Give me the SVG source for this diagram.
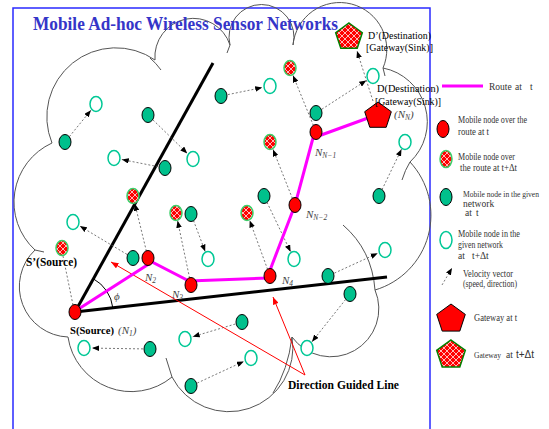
<svg xmlns="http://www.w3.org/2000/svg" width="549" height="429" viewBox="0 0 549 429">
<style>
.g{fill:#00c08c;stroke:#000;stroke-width:1}
.h{fill:#fff;stroke:#00c896;stroke-width:1.5}
.r{fill:#ff0000;stroke:#000;stroke-width:1}
.rh{fill:url(#hatch);stroke:#3ccf6a;stroke-width:1.5}
.v{stroke:#555;stroke-width:0.8;stroke-dasharray:2 2;fill:none;marker-end:url(#ah)}
.cl{fill:none;stroke:#555;stroke-width:1}
.lt{font-family:"Liberation Serif",serif;font-size:9.5px;fill:#333}
.nl{font-family:"Liberation Serif",serif;font-style:italic;font-size:11px;fill:#444}
.sub{font-size:7.5px}
.lbl{font-family:"Liberation Serif",serif;font-size:11px;fill:#000}
.bl{font-family:"Liberation Serif",serif;font-weight:bold;font-size:12px;fill:#000}
.red{stroke:#ff0000;stroke-width:1;fill:none;marker-end:url(#rah)}
</style>
<defs>
<pattern id="hatch" patternUnits="userSpaceOnUse" width="6" height="6">
<rect width="6" height="6" fill="#ff0000"/>
<path d="M0,0 L6,6 M6,0 L0,6" stroke="#ffb8b8" stroke-width="1"/>
</pattern>
<marker id="ah" viewBox="0 0 10 8" refX="10" refY="4" markerWidth="7" markerHeight="5.6" orient="auto" markerUnits="userSpaceOnUse">
<path d="M0,0 L10,4 L0,8 z" fill="#000"/>
</marker>
<marker id="rah" viewBox="0 0 10 8" refX="10" refY="4" markerWidth="8" markerHeight="6" orient="auto" markerUnits="userSpaceOnUse">
<path d="M0,0 L10,4 L0,8 z" fill="#ff0000"/>
</marker>
</defs>
<rect width="549" height="429" fill="#fff"/>
<rect x="13" y="8" width="417" height="440" fill="none" stroke="#2a2aff" stroke-width="1.5"/>
<g id="cloud">
<path class="cl" d="M52,143 A69,69 0 0 1 155,60 A38.5,38.5 0 0 1 230,45 A32.5,32.5 0 1 1 293,45 A47,47 0 1 1 383,68 A55,55 0 0 1 410,162 A78,78 0 0 1 375,290 A48,48 0 0 1 292,337 A64,64 0 0 1 172,377 A64,64 0 0 1 68,337 A50.5,50.5 0 0 1 35,250 A65,65 0 0 1 52,143 Z"/>
<path class="cl" d="M150,58 Q156,63 161,70 M230,45 L227,53 M383,68 L385,76 M410,162 Q405,170 402,180 M343,225 Q372,250 375,290 M292,337 Q288,370 273,393 M172,377 L166,358 M35,250 L44,252"/>
</g>
<text x="33" y="30" font-family="Liberation Serif,serif" font-weight="bold" font-size="19" fill="#3535c8" textLength="305" lengthAdjust="spacingAndGlyphs">Mobile Ad-hoc Wireless Sensor Networks</text>
<g id="guides">
<line x1="75" y1="312" x2="213" y2="63" stroke="#000" stroke-width="3"/>
<line x1="75" y1="312" x2="387" y2="277" stroke="#000" stroke-width="3"/>
<path d="M93.4,278.8 A38,38 0 0 1 112.8,307.7" fill="none" stroke="#000" stroke-width="1"/>
<text x="114" y="300" class="nl" fill="#000">ϕ</text>
</g>
<g id="connectors">
<path class="v" d="M69.4,136.6 L90.9,110.2"/>
<path class="v" d="M153,119.9 L187.3,153.4"/>
<path class="v" d="M227.9,94.6 L262.2,87.6"/>
<path class="v" d="M158.1,166.7 L121.8,159.5"/>
<path class="v" d="M321.9,109.2 L366.3,80.4"/>
<path class="v" d="M313.4,125.5 L293,75.4"/>
<path class="v" d="M373,101 L357,51"/>
<path class="v" d="M292.4,198.5 L273,149.4"/>
<path class="v" d="M382,189.7 L401.5,149.2"/>
<path class="v" d="M267,202.3 L290.6,251.8"/>
<path class="v" d="M146.4,251.2 L134.9,203.8"/>
<path class="v" d="M189.6,278.1 L177.6,220.8"/>
<path class="v" d="M193.5,220.5 L205.2,251.5"/>
<path class="v" d="M267.6,269.4 L249.7,220.5"/>
<path class="v" d="M127,254.4 L79.9,226.1"/>
<path d="M63,256 L73,305" stroke="#555" stroke-width="0.8" stroke-dasharray="2 2" fill="none"/>
<path class="v" d="M334.4,273.1 L377.7,253.3"/>
<path class="v" d="M345.6,299.5 L312,341.7"/>
<path class="v" d="M235.3,324 L192.7,336.7"/>
<path class="v" d="M143,348.9 L92,348.1"/>
<path class="v" d="M197.3,383 L243.8,361.4"/>
<path class="red" d="M305,375 L111,262"/>
<path class="red" d="M305,375 L273,297"/>
<polyline points="77,310 152,262 189,281 267,278 295,205 313,138 368,118" fill="none" stroke="#ff00ff" stroke-width="3" stroke-linejoin="miter"/>
</g>
<g id="green-nodes">
<ellipse class="g" cx="65" cy="142" rx="6" ry="7.5"/>
<ellipse class="g" cx="148" cy="115" rx="6" ry="7.5"/>
<ellipse class="g" cx="221" cy="96" rx="6" ry="7.5"/>
<ellipse class="g" cx="165" cy="168" rx="6" ry="7.5"/>
<ellipse class="g" cx="316" cy="113" rx="6" ry="7.5"/>
<ellipse class="g" cx="264" cy="196" rx="6" ry="7.5"/>
<ellipse class="g" cx="191" cy="214" rx="6" ry="7.5"/>
<ellipse class="g" cx="133" cy="258" rx="6" ry="7.5"/>
<ellipse class="g" cx="379" cy="196" rx="6" ry="7.5"/>
<ellipse class="g" cx="328" cy="276" rx="6" ry="7.5"/>
<ellipse class="g" cx="350" cy="294" rx="6" ry="7.5"/>
<ellipse class="g" cx="242" cy="322" rx="6" ry="7.5"/>
<ellipse class="g" cx="150" cy="349" rx="6" ry="7.5"/>
<ellipse class="g" cx="191" cy="386" rx="6" ry="7.5"/>
</g>
<g id="hollow-nodes">
<ellipse class="h" cx="96" cy="104" rx="6" ry="7.5"/>
<ellipse class="h" cx="270" cy="86" rx="6" ry="7.5"/>
<ellipse class="h" cx="193" cy="159" rx="6" ry="7.5"/>
<ellipse class="h" cx="114" cy="158" rx="6" ry="7.5"/>
<ellipse class="h" cx="373" cy="76" rx="6" ry="7.5"/>
<ellipse class="h" cx="405" cy="142" rx="6" ry="7.5"/>
<ellipse class="h" cx="73" cy="222" rx="6" ry="7.5"/>
<ellipse class="h" cx="208" cy="259" rx="6" ry="7.5"/>
<ellipse class="h" cx="294" cy="259" rx="6" ry="7.5"/>
<ellipse class="h" cx="385" cy="250" rx="6" ry="7.5"/>
<ellipse class="h" cx="185" cy="339" rx="6" ry="7.5"/>
<ellipse class="h" cx="84" cy="348" rx="6" ry="7.5"/>
<ellipse class="h" cx="251" cy="358" rx="6" ry="7.5"/>
<ellipse class="h" cx="307" cy="348" rx="6" ry="7.5"/>
</g>
<g id="moved-route-nodes">
<ellipse class="rh" cx="290" cy="68" rx="6" ry="7.5"/>
<ellipse class="rh" cx="270" cy="142" rx="6" ry="7.5"/>
<ellipse class="rh" cx="133" cy="196" rx="6" ry="7.5"/>
<ellipse class="rh" cx="176" cy="213" rx="6" ry="7.5"/>
<ellipse class="rh" cx="247" cy="213" rx="6" ry="7.5"/>
<ellipse class="rh" cx="62" cy="248" rx="6" ry="7.5"/>
</g>
<g id="node-S">
<ellipse class="r" cx="75" cy="312" rx="6" ry="7.5"/>
<text class="bl" x="70" y="334" textLength="44" lengthAdjust="spacingAndGlyphs" style="font-size:11px">S(Source)</text>
<text class="nl" x="118" y="334" fill="#555">(<tspan>N</tspan><tspan class="sub" dy="2">1</tspan><tspan dy="-2">)</tspan></text>
</g>
<g id="node-S-prime">
<text class="bl" x="26" y="266" textLength="51" lengthAdjust="spacingAndGlyphs">S’(Source)</text>
</g>
<g id="node-N2">
<ellipse class="r" cx="148" cy="258" rx="6" ry="7.5"/>
<text class="nl" x="145" y="281">N<tspan class="sub" dy="2">2</tspan></text>
</g>
<g id="node-N3">
<ellipse class="r" cx="191" cy="285" rx="6" ry="7.5"/>
<text class="nl" x="172" y="298">N<tspan class="sub" dy="2">3</tspan></text>
</g>
<g id="node-N4">
<ellipse class="r" cx="270" cy="276" rx="6" ry="7.5"/>
<text class="nl" x="282" y="284">N<tspan class="sub" dy="2">4</tspan></text>
</g>
<g id="node-NN-2">
<ellipse class="r" cx="295" cy="205" rx="6" ry="7.5"/>
<text class="nl" x="306" y="218">N<tspan class="sub" dy="2">N−2</tspan></text>
</g>
<g id="node-NN-1">
<ellipse class="r" cx="316" cy="132" rx="6" ry="7.5"/>
<text class="nl" x="315" y="156">N<tspan class="sub" dy="2">N−1</tspan></text>
</g>
<g id="node-D">
<polygon points="378,102 391.3,111.7 386.2,127.3 369.8,127.3 364.7,111.7" fill="#ff0000" stroke="#000" stroke-width="1"/>
<text class="lbl" x="377" y="92" textLength="62" lengthAdjust="spacingAndGlyphs">D(Destination)</text>
<text class="lbl" x="375" y="105" textLength="66" lengthAdjust="spacingAndGlyphs">[Gateway(Sink)]</text>
<text class="nl" x="394" y="118" fill="#555">(N<tspan class="sub" dy="2">N</tspan><tspan dy="-2">)</tspan></text>
</g>
<g id="node-D-prime">
<polygon points="349,23 362.3,32.7 357.2,48.3 340.8,48.3 335.7,32.7" fill="url(#hatch)" stroke="#008000" stroke-width="1.5"/>
<text class="lbl" x="368" y="39" textLength="63" lengthAdjust="spacingAndGlyphs">D’(Destination)</text>
<text class="lbl" x="366" y="51" textLength="67" lengthAdjust="spacingAndGlyphs">[Gateway(Sink)]</text>
</g>
<g id="direction-label">
<text x="288" y="389" font-family="Liberation Serif,serif" font-weight="bold" font-size="13" fill="#000" textLength="111" lengthAdjust="spacingAndGlyphs">Direction Guided Line</text>
</g>
<g id="legend">
<line x1="442" y1="86" x2="483" y2="86" stroke="#ff00ff" stroke-width="3"/>
<text class="lt" font-size="11" x="489" y="90">Route<tspan x="515">at</tspan><tspan x="530">t</tspan></text>
<ellipse class="r" cx="443" cy="129" rx="6" ry="8.5"/>
<text class="lt" x="458" y="123" textLength="69" lengthAdjust="spacingAndGlyphs">Mobile node  over the</text>
<text class="lt" x="458" y="135" textLength="31" lengthAdjust="spacingAndGlyphs">route at  t</text>
<ellipse class="rh" cx="446" cy="159" rx="6" ry="8.5"/>
<text class="lt" x="458" y="160" textLength="57" lengthAdjust="spacingAndGlyphs">Mobile  node over</text>
<text class="lt" x="460" y="171" textLength="57" lengthAdjust="spacingAndGlyphs">the route  at  t+Δt</text>
<ellipse class="g" cx="446" cy="197" rx="6" ry="8.5"/>
<text class="lt" x="463" y="197" textLength="76" lengthAdjust="spacingAndGlyphs" style="font-size:8.5px">Mobile node in the given</text>
<text class="lt" x="463" y="207">network</text>
<text class="lt" x="465" y="216">at<tspan x="476">t</tspan></text>
<ellipse class="h" cx="446" cy="240" rx="6" ry="8.5"/>
<text class="lt" x="458" y="237" textLength="62" lengthAdjust="spacingAndGlyphs">Mobile  node in the</text>
<text class="lt" x="458" y="248" textLength="45" lengthAdjust="spacingAndGlyphs">given network</text>
<text class="lt" x="458" y="259">at<tspan x="472">t+Δt</tspan></text>
<path class="v" d="M442,285 L452,268"/>
<text class="lt" x="463" y="277" textLength="50" lengthAdjust="spacingAndGlyphs">Velocity  vector</text>
<text class="lt" x="463" y="287" textLength="54" lengthAdjust="spacingAndGlyphs">(speed, direction)</text>
<polygon points="451,304 465.3,314.4 459.8,331.1 442.2,331.1 436.7,314.4" fill="#ff0000" stroke="#000" stroke-width="1"/>
<text class="lt" x="474" y="321" textLength="43" lengthAdjust="spacingAndGlyphs">Gateway  at  t</text>
<polygon points="451,340 465.3,350.4 459.8,367.1 442.2,367.1 436.7,350.4" fill="url(#hatch)" stroke="#008000" stroke-width="1.5"/>
<text class="lt" x="474" y="358" textLength="27" lengthAdjust="spacingAndGlyphs" style="font-size:8.5px">Gateway</text>
<text class="lt" x="506" y="358">at</text>
<text x="516" y="358" font-family="Liberation Sans,sans-serif" font-size="10" fill="#333">t+Δt</text>
</g>
</svg>
